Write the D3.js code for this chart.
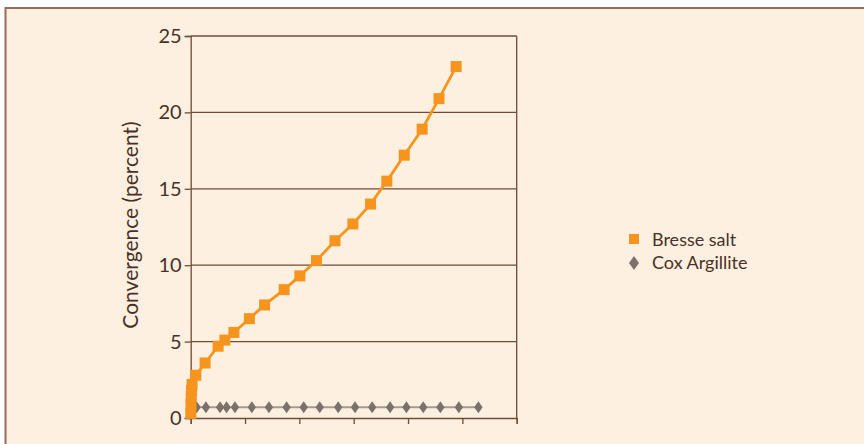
<!DOCTYPE html>
<html>
<head>
<meta charset="utf-8">
<script src="https://cdn.jsdelivr.net/npm/d3@7"></script>
<style>
  body { margin: 0; background: #fff; }
  svg { display: block; }
  text { font-family: Lato, "Open Sans", sans-serif; fill: #4a3126; }
</style>
</head>
<body>
<script>
// - Convergence chart -

// Data (x = time, arbitrary units, 200 per tick)
const bresseX = [0.5, 1, 2, 3, 5, 19, 53, 101, 126, 159, 216, 272, 344, 402, 463, 531, 597, 662, 722, 786, 852, 914, 977];
const bresseY = [0.3, 0.9, 1.4, 1.8, 2.2, 2.8, 3.6, 4.7, 5.1, 5.6, 6.5, 7.4, 8.4, 9.3, 10.3, 11.6, 12.7, 14.0, 15.5, 17.2, 18.9, 20.9, 23.0];

const coxX = [1, 3, 7, 22, 56, 108, 132, 163, 225, 288, 353, 416, 475, 543, 605, 668, 734, 794, 856, 919, 987, 1059];
const coxY = [0.7, 0.7, 0.7, 0.7, 0.7, 0.7, 0.7, 0.7, 0.7, 0.7, 0.7, 0.7, 0.7, 0.7, 0.7, 0.7, 0.7, 0.7, 0.7, 0.7, 0.7, 0.7];

const yTicks = [0, 5, 10, 15, 20, 25];
const xTicks = [0, 200, 400, 600, 800, 1000, 1200];
const seriesNames = ["Bresse salt", "Cox Argillite"];

// Chart size

const w = 864, h = 444;
const plotLeft = 190.7, plotRight = 516.7, plotTop = 36, plotBottom = 418;

const orange = "#f7941d",
      grey = "#7b706a",
      greyLine = "#a39a94",
      rule = "#6e4c36";

const svg = d3.select("body")
              .append("svg")
              .attr("width", w)
              .attr("height", h);

// Frame

svg.append("rect")
   .attr("x", 5.5).attr("y", 8)
   .attr("width", w + 20).attr("height", h + 20)
   .attr("fill", "#fdf0e1")
   .attr("stroke", "#9c6b58")
   .attr("stroke-width", 2);

// Scales

const x = d3.scaleLinear().domain([0, 1200]).range([plotLeft, plotRight]);
const y = d3.scaleLinear().domain([0, 25]).range([plotBottom, plotTop]);

// Grid lines

svg.append("g")
   .selectAll("line")
   .data(yTicks.slice(1))
   .enter()
   .append("line")
   .attr("x1", plotLeft).attr("x2", plotRight)
   .attr("y1", d => y(d)).attr("y2", d => y(d))
   .attr("stroke", rule)
   .attr("stroke-width", 1.3);

// Right border of plot
svg.append("line")
   .attr("x1", plotRight).attr("x2", plotRight)
   .attr("y1", plotTop).attr("y2", plotBottom)
   .attr("stroke", rule).attr("stroke-width", 1.3);

// Axes

const yAxis = svg.append("g")
   .attr("transform", "translate(" + plotLeft + ",0)")
   .call(d3.axisLeft(y).tickValues(yTicks).tickSize(6).tickPadding(3));

const xAxis = svg.append("g")
   .attr("transform", "translate(0," + plotBottom + ")")
   .call(d3.axisBottom(x).tickValues(xTicks).tickSize(6).tickFormat(""));

[yAxis, xAxis].forEach(g => {
  g.select(".domain").attr("stroke", rule).attr("stroke-width", 1.3);
  g.selectAll(".tick line").attr("stroke", rule).attr("stroke-width", 1.3);
});
yAxis.selectAll(".tick text")
     .style("font-size", "20px")
     .style("font-family", "Lato, sans-serif")
     .attr("fill", "#4a3126");

// Axis title

svg.append("text")
   .attr("transform", "translate(137.5,225) rotate(-90)")
   .attr("text-anchor", "middle")
   .style("font-size", "21px")
   .text("Convergence (percent)");

// Lines

const bresse = bresseX.map((d, i) => [d, bresseY[i]]);
const cox = coxX.map((d, i) => [d, coxY[i]]);

const line = d3.line().x(d => x(d[0])).y(d => y(d[1]));

svg.append("path")
   .datum(cox)
   .attr("d", line)
   .attr("fill", "none")
   .attr("stroke", greyLine)
   .attr("stroke-width", 2);

const diamond = "M0,-6L4.2,0L0,6L-4.2,0Z";

svg.append("g")
   .selectAll("path")
   .data(cox)
   .enter()
   .append("path")
   .attr("d", diamond)
   .attr("transform", d => "translate(" + x(d[0]) + "," + y(d[1]) + ")")
   .attr("fill", grey);

svg.append("path")
   .datum(bresse)
   .attr("d", line)
   .attr("fill", "none")
   .attr("stroke", orange)
   .attr("stroke-width", 2.8);

svg.append("g")
   .selectAll("rect")
   .data(bresse)
   .enter()
   .append("rect")
   .attr("x", d => x(d[0]) - 5.5)
   .attr("y", d => y(d[1]) - 5.5)
   .attr("width", 11)
   .attr("height", 11)
   .attr("fill", orange);

// Legend

const legend = svg.append("g").attr("transform", "translate(634,0)");

legend.append("rect")
      .attr("x", -5).attr("y", 234)
      .attr("width", 10).attr("height", 10)
      .attr("fill", orange);

legend.append("path")
      .attr("d", "M0,-7L5,0L0,7L-5,0Z")
      .attr("transform", "translate(0,263)")
      .attr("fill", grey);

legend.selectAll("text")
      .data(seriesNames)
      .enter()
      .append("text")
      .attr("x", 18)
      .attr("y", (d, i) => 246 + i * 23)
      .style("font-size", "18px")
      .text(d => d);
</script>
</body>
</html>
